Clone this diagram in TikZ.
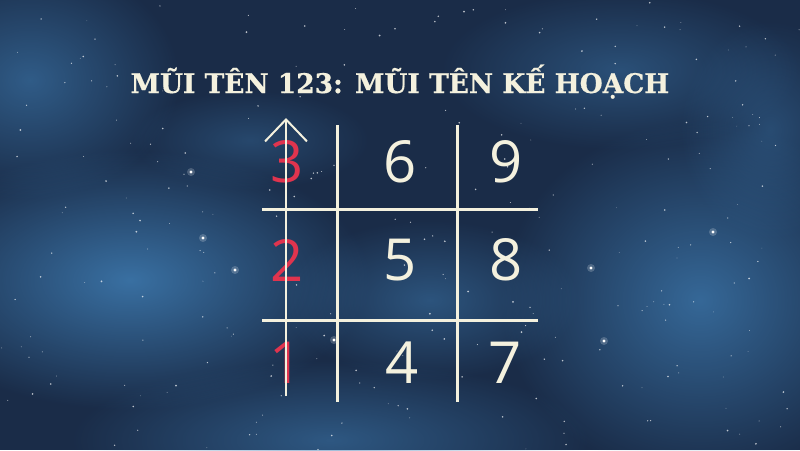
\documentclass[tikz,border=0pt]{standalone}
\usepackage{fontspec}
\usetikzlibrary{arrows.meta}
\usetikzlibrary{fadings}
\newfontfamily\titlefont{DejaVu Serif}[BoldFont={DejaVu Serif Bold}, BoldFeatures={FakeBold=0.6}]
\newfontfamily\digitfont{Open Sans}
\definecolor{skyclr}{HTML}{1A2C48}
\definecolor{cloudclr}{HTML}{3F7CB2}
\definecolor{lineclr}{HTML}{F4F1DE}
\definecolor{redclr}{HTML}{E0344E}
\tikzfading[name=softglow, inner color=transparent!0, outer color=transparent!100]

\begin{document}
\begin{tikzpicture}[x=1pt,y=-1pt,
   gridline/.style={draw=lineclr, line width=3pt},
   cell/.style={font=\digitfont\fontsize{58}{58}\selectfont, text=lineclr, inner sep=0pt},
   redcell/.style={cell, text=redclr},
   heading/.style={font=\titlefont\bfseries\fontsize{27}{27}\selectfont, anchor=base, xscale=0.98},
   cloud/.style={fill=cloudclr, path fading=softglow}]
         \useasboundingbox (0,0) rectangle (800,450);
         % night sky
         \fill[skyclr] (0,0) rectangle (800,450);
         \fill[cloud, opacity=0.85] (130,280) ellipse (240 and 130);
         \fill[cloud, opacity=0.6] (30,80) ellipse (150 and 120);
         \fill[cloud, opacity=0.75] (700,300) ellipse (200 and 180);
         \fill[cloud, opacity=0.5] (430,300) ellipse (150 and 80);
         \fill[cloud, opacity=0.55] (330,440) ellipse (260 and 80);
         \fill[cloud, opacity=0.45] (620,70) ellipse (180 and 80);
         \fill[cloud, opacity=0.4] (770,130) ellipse (90 and 110);
         \fill[cloud, opacity=0.35] (250,140) ellipse (120 and 50);
         \pgfmathsetseed{17}
         \foreach \i in {1,...,260}{
           \pgfmathsetmacro{\sx}{800*rnd}
           \pgfmathsetmacro{\sy}{450*rnd}
           \pgfmathsetmacro{\sr}{0.3+0.7*rnd}
           \fill[white, opacity=0.7] (\sx,\sy) circle (\sr);
         }
         \foreach \sx/\sy in {334/340, 203/238, 235/270, 604/341, 713/232, 591/268, 191/172}{
           \fill[white, opacity=0.2] (\sx,\sy) circle (4);
           \fill[white] (\sx,\sy) circle (1.6);
         }
         % title
         \node (title) [heading, text=lineclr] at (400,93) {MŨI TÊN 123: MŨI TÊN KẾ HOẠCH};
         % grid
         \draw[gridline] (337,125) -- (337,402);
         \draw[gridline] (457,125) -- (457,402);
         \draw[gridline] (262,209) -- (538,209);
         \draw[gridline] (262,320) -- (538,320);
         % numbers
         \node (n3) [redcell] at (287,162) {3};
         \node (n6) [cell] at (400,162) {6};
         \node (n9) [cell] at (506,162) {9};
         \node (n2) [redcell] at (287,260) {2};
         \node (n5) [cell] at (400,260) {5};
         \node (n8) [cell] at (506,260) {8};
         \node (n1) [redcell] at (286,363) {1};
         \node (n4) [cell] at (402,363) {4};
         \node (n7) [cell] at (505,363) {7};
         % arrow
         \coordinate (tail) at (286,396);
         \coordinate (tip) at (286,118);
         \draw[lineclr, line width=2pt, -{Straight Barb[length=22pt,width=42pt,line width=2pt]}] (tail) -- (tip);
\end{tikzpicture}
\end{document}
